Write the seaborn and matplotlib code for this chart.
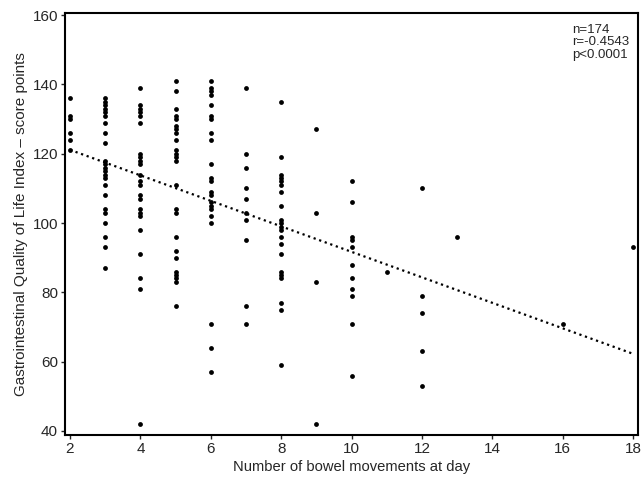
import matplotlib
matplotlib.use("Agg")
import matplotlib.pyplot as plt
import pandas as pd
import seaborn as sns

# values, one list per x column
movements = [2, 3, 4, 5, 6, 7, 8, 9, 10, 11, 12, 13, 16, 18]
giqli = [
    [136, 131, 130, 126, 124, 121],
    [136, 135, 134, 133, 132, 131, 129, 126, 123, 118, 117, 116, 115, 114, 113,
     111, 108, 104, 103, 100, 96, 93, 87],
    [139, 134, 133, 132, 131, 129, 120, 119, 118, 117, 114, 112, 111, 108, 107,
     104, 103, 102, 98, 91, 84, 81, 42],
    [141, 138, 133, 131, 130, 128, 127, 126, 124, 121, 120, 119, 118, 111, 104,
     103, 96, 92, 90, 86, 85, 84, 83, 76],
    [141, 139, 138, 137, 134, 131, 130, 126, 124, 117, 113, 112, 109, 108, 106,
     105, 104, 102, 100, 71, 64, 57],
    [139, 120, 116, 110, 107, 103, 101, 95, 76, 71],
    [135, 119, 114, 113, 112, 111, 109, 105, 101, 100, 99, 98, 96, 94, 91, 86,
     85, 84, 77, 75, 59],
    [127, 103, 83, 42],
    [112, 106, 96, 95, 93, 88, 84, 81, 79, 71, 56],
    [86],
    [110, 79, 74, 63, 53],
    [96],
    [71],
    [93],
]
stats_text = "n=174\nr=-0.4543\np<0.0001"

rows = [(x, y) for x, ys in zip(movements, giqli) for y in ys]
df = pd.DataFrame(rows, columns=["bm", "score"])

sns.set_style("ticks")
plt.rcParams['font.family'] = ['Liberation Sans', 'DejaVu Sans']

fig = plt.figure(figsize=(6.44, 4.84), dpi=100)
ax = fig.add_axes([0.101, 0.101, 0.89, 0.872])

sns.regplot(data=df, x="bm", y="score", ax=ax, ci=None,
            scatter_kws={"s": 12, "marker": "D", "color": "black",
                         "linewidths": 0, "alpha": 1},
            line_kws={"color": "black", "linestyle": ":", "linewidth": 1.6})

ax.set_xlim(1.86, 18.14)
ax.set_ylim(38.8, 160.6)
ax.set_xticks(range(2, 19, 2))
ax.set_yticks(range(40, 161, 20))
ax.tick_params(length=3, width=1, labelsize=11, pad=2)
for sp in ax.spines.values():
    sp.set_visible(True)
    sp.set_linewidth(1.5)
    sp.set_color("black")

ax.set_xlabel("Number of bowel movements at day", fontsize=10.6, labelpad=3)
ax.set_ylabel("Gastrointestinal Quality of Life Index \u2013 score points", fontsize=11, labelpad=3)
ax.text(0.884, 0.975, stats_text, transform=ax.transAxes, fontsize=9.5,
        ha="left", va="top", linespacing=1.05)

plt.savefig("out.png", dpi=100)
